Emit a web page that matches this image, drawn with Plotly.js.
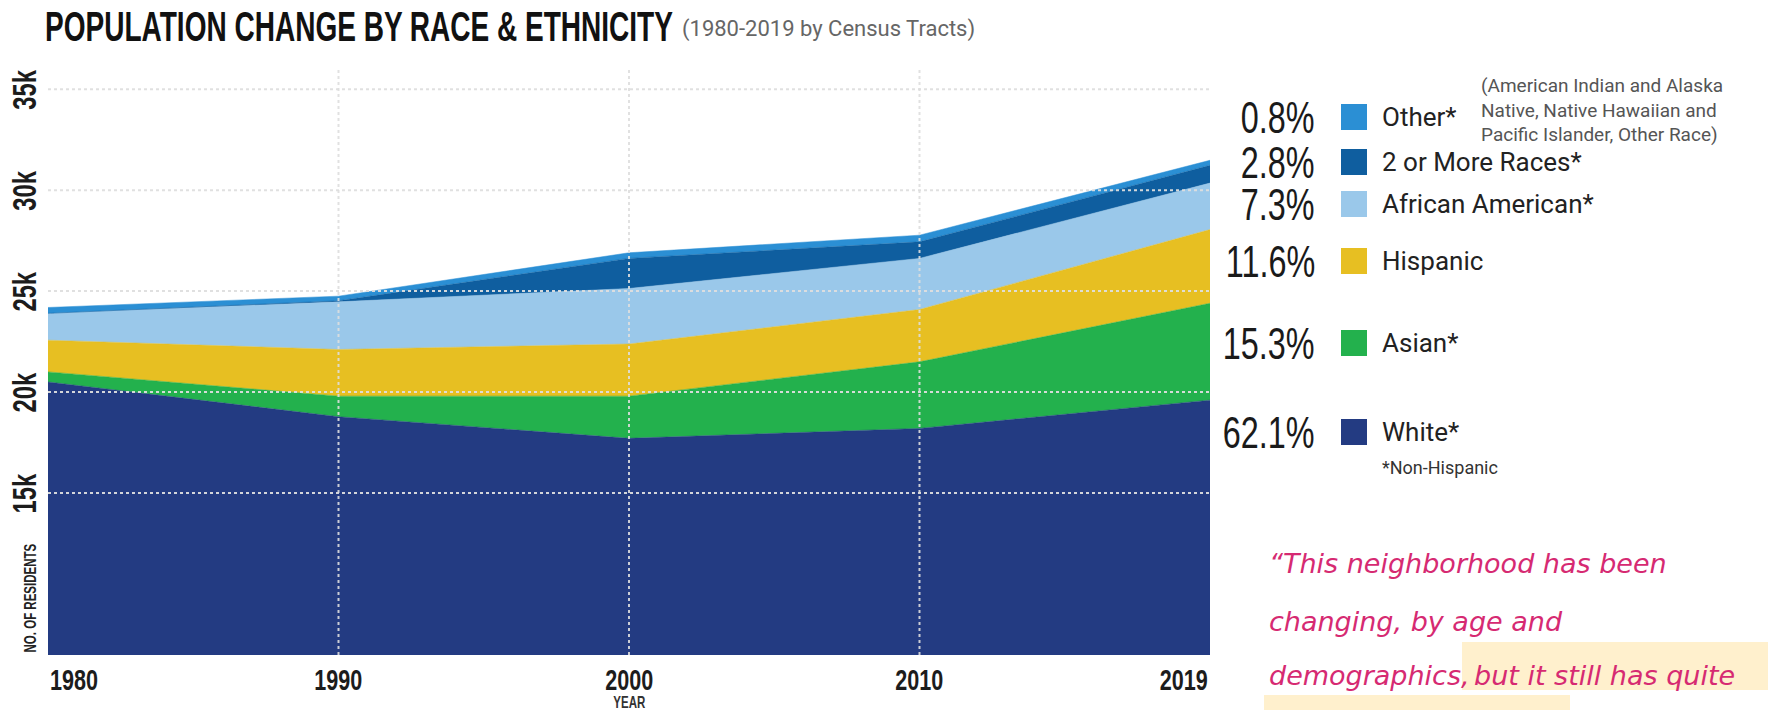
<!DOCTYPE html>
<html><head><meta charset="utf-8">
<script src="https://cdn.plot.ly/plotly-3.0.1.min.js"></script>
<style>html,body{margin:0;padding:0;background:#fff}#chart{width:1777px;height:710px}</style>
</head><body><div id="chart"></div>
<script>
// ---- data ----
const years = ['1980','1990','2000','2010','2019'];
const white = [20500,18780,17710,18200,19600];
const asian = [500,1020,2090,3300,4800];
const hispanic = [1570,2310,2580,2590,3650];
const africanAmerican = [1330,2360,2750,2530,2300];
const twoOrMore = [0,50,1490,820,880];
const other = [290,230,280,330,250];
const seriesNames = ['White*','Asian*','Hispanic','African American*','2 or More Races*','Other*'];
const seriesColors = ['#233b82','#23b14d','#e7bf22','#9ac8ea','#0f5e9f','#2b8fd4'];
const sharePct = ['62.1%','15.3%','11.6%','7.3%','2.8%','0.8%'];
const yTickVals = [15000,20000,25000,30000,35000];
const yTickText = ['15k','20k','25k','30k','35k'];
const gridYears = ['1990','2000','2010'];
const quoteLines = ['\u201cThis neighborhood has been','changing, by age and','demographics,','but it still has quite'];

// ---- geometry ----
const W=1777,H=710,L=48,R=567,T=69,B=55;
const PW=W-L-R, PH=H-T-B;
const px=x=>(x-L)/PW, py=y=>(H-B-y)/PH;

const seriesValues=[white,asian,hispanic,africanAmerican,twoOrMore,other];
const traces=seriesValues.map((v,i)=>({
  type:'scatter',x:years,y:v,name:seriesNames[i],stackgroup:'one',
  mode:'lines',line:{width:0.5,color:seriesColors[i]},fillcolor:seriesColors[i],
  hoverinfo:'x+y+name'
}));

const SANS='Liberation Sans, Arial, sans-serif';
const shapes=[];
const annotations=[];
const squeeze=[];   // horizontal condensing factor per annotation (0 = none)
const sqAnchor=[];  // anchor along text direction
const sqTarget=[];  // optional target width
function addAnn(a,s,anc,target){annotations.push(a);squeeze.push(s||0);sqAnchor.push(anc||'center');sqTarget.push(target||0);}

// grid lines drawn above the areas
yTickVals.forEach(v=>shapes.push({type:'line',layer:'above',xref:'paper',yref:'y',x0:0,x1:1,y0:v,y1:v,
  line:{color:'rgba(222,222,222,0.95)',width:2,dash:'dot'}}));
gridYears.forEach(g=>{const i=years.indexOf(g);shapes.push({type:'line',layer:'above',xref:'x',yref:'paper',x0:i,x1:i,y0:0,y1:1,
  line:{color:'rgba(222,222,222,0.9)',width:2,dash:'dot'}});});

// y tick labels (rotated, condensed)
yTickVals.forEach((v,i)=>addAnn({xref:'paper',yref:'y',x:px(24),y:v,xanchor:'center',yanchor:'middle',textangle:-90,showarrow:false,
  text:yTickText[i],font:{family:SANS,size:34,color:'#1c1c1c',weight:'bold'}},0.7,'center'));
// x tick labels
years.forEach((yr,i)=>{const anc=i===0?'left':(i===years.length-1?'right':'center');
  addAnn({xref:'x',yref:'paper',x:i,y:0,yshift:-24,xanchor:anc,yanchor:'middle',showarrow:false,text:yr,
  font:{family:SANS,size:30,color:'#1c1c1c',weight:'bold'}},0.72,anc);});
addAnn({xref:'x',yref:'paper',x:2,y:0,yshift:-47,xanchor:'center',yanchor:'middle',showarrow:false,text:'YEAR',
  font:{family:SANS,size:16,color:'#333',weight:'bold'}},0.72,'center');
addAnn({xref:'paper',yref:'paper',x:px(31),y:0,xanchor:'center',yanchor:'bottom',textangle:-90,showarrow:false,
  text:'NO. OF RESIDENTS',font:{family:SANS,size:16,color:'#222',weight:'bold'}},0.72,'left');

// title
addAnn({xref:'paper',yref:'paper',x:px(43),y:py(26),xanchor:'left',yanchor:'middle',showarrow:false,
  text:'POPULATION CHANGE BY RACE &amp; ETHNICITY',font:{family:SANS,size:43,color:'#111',weight:'bold'}},0.68,'left',628);
addAnn({xref:'paper',yref:'paper',x:px(680),y:py(29),xanchor:'left',yanchor:'middle',showarrow:false,
  text:'(1980-2019 by Census Tracts)',font:{family:'Roboto, sans-serif',size:22,color:'#666'}});

// legend
const rowY=[432,343,261,204,162,117];
seriesNames.forEach((n,i)=>{
  const y=rowY[i];
  addAnn({xref:'paper',yref:'paper',x:px(1317),y:py(y),xanchor:'right',yanchor:'middle',showarrow:false,
    text:sharePct[i],font:{family:SANS,size:45,color:'#1a1a1a'}},0.72,'right');
  shapes.push({type:'rect',xref:'paper',yref:'paper',x0:px(1341),x1:px(1367),y0:py(y+13),y1:py(y-13),
    fillcolor:seriesColors[i],line:{width:0}});
  addAnn({xref:'paper',yref:'paper',x:px(1380),y:py(y),xanchor:'left',yanchor:'middle',showarrow:false,
    text:n,font:{family:'Roboto, sans-serif',size:26,color:'#222'}});
});
addAnn({xref:'paper',yref:'paper',x:px(1479),y:py(110),xanchor:'left',yanchor:'middle',showarrow:false,align:'left',
  text:'(American Indian and Alaska<br>Native, Native Hawaiian and<br>Pacific Islander, Other Race)',
  font:{family:'Roboto, sans-serif',size:19,color:'#555'}});
addAnn({xref:'paper',yref:'paper',x:px(1380),y:py(467),xanchor:'left',yanchor:'middle',showarrow:false,
  text:'*Non-Hispanic',font:{family:'Roboto, sans-serif',size:18,color:'#333'}});

// quote with highlight
shapes.push({type:'rect',xref:'paper',yref:'paper',layer:'below',x0:px(1462),x1:px(1768),y0:py(642),y1:py(690),fillcolor:'#fff0cd',line:{width:0}});
shapes.push({type:'rect',xref:'paper',yref:'paper',layer:'below',x0:px(1264),x1:px(1570),y0:py(695),y1:py(712),fillcolor:'#fff0cd',line:{width:0}});
const qFont={family:'DejaVu Sans, sans-serif',size:27,color:'#d62a72',style:'italic'};
[[1267,563,0],[1267,621,1],[1267,675,2],[1472,675,3]].forEach(([x,y,k])=>addAnn({
  xref:'paper',yref:'paper',x:px(x),y:py(y),xanchor:'left',yanchor:'middle',showarrow:false,text:quoteLines[k],font:qFont}));

const layout={
  width:W,height:H,margin:{l:L,r:R,t:T,b:B},paper_bgcolor:'#fff',plot_bgcolor:'#fff',showlegend:false,
  xaxis:{type:'category',categoryarray:years,range:[0,years.length-1],showgrid:false,zeroline:false,showline:false,
    showticklabels:false,ticks:''},
  yaxis:{range:[6980,36000],showgrid:false,zeroline:false,showline:false,ticks:'',showticklabels:false},
  shapes:shapes,annotations:annotations
};
Plotly.newPlot('chart',traces,layout,{displayModeBar:false,staticPlot:true}).then(()=>{
  document.querySelectorAll('#chart g.annotation').forEach(g=>{
    const i=+g.getAttribute('data-index');
    let s=squeeze[i]; if(!s) return;
    const t=g.querySelector('text.annotation-text'); if(!t) return;
    const bb=t.getBBox(); if(!bb.width) return;
    if(sqTarget[i]) s=sqTarget[i]/bb.width;
    const a=sqAnchor[i];
    const cx=a==='left'?bb.x:(a==='right'?bb.x+bb.width:bb.x+bb.width/2);
    const prev=t.getAttribute('transform')||'';
    t.setAttribute('transform',(prev+' translate('+cx+',0) scale('+s+',1) translate('+(-cx)+',0)').trim());
  });
});
</script></body></html>
